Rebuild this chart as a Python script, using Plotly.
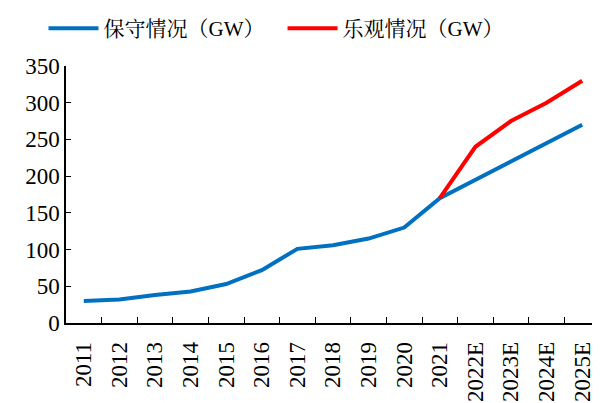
import plotly.graph_objects as go

years = ["2011", "2012", "2013", "2014", "2015", "2016", "2017", "2018",
         "2019", "2020", "2021", "2022E", "2023E", "2024E", "2025E"]
conservative = [30, 32, 38, 43, 53, 72, 101, 106, 115, 130, 170, 195, 220, 245, 270]
optimistic_years = ["2021", "2022E", "2023E", "2024E", "2025E"]
optimistic = [170, 240, 275, 300, 330]

font_fam = "Liberation Serif, Times New Roman, Noto Serif CJK SC, Noto Sans CJK SC, serif"

fig = go.Figure()
fig.add_trace(go.Scatter(x=years, y=conservative, mode="lines", name="保守情况（GW）",
                         line=dict(color="#0070C0", width=4)))
fig.add_trace(go.Scatter(x=optimistic_years, y=optimistic, mode="lines", name="乐观情况（GW）",
                         line=dict(color="#FF0000", width=4)))

fig.update_layout(
    width=592, height=395,
    margin=dict(l=58, r=0, t=58, b=80),
    paper_bgcolor="white", plot_bgcolor="white",
    font=dict(family=font_fam, size=23, color="black"),
    showlegend=True,
    legend=dict(orientation="h", x=0.06, xref="container", xanchor="left",
                y=1.0, yref="container", yanchor="top", font=dict(size=21),
                itemwidth=50, entrywidth=174, entrywidthmode="pixels",
                bgcolor="rgba(0,0,0,0)"),
    xaxis=dict(type="category", categoryorder="array", categoryarray=years,
               range=[-0.5, 14.5], showline=True, linecolor="black", linewidth=1.5,
               ticks="inside", ticklen=6, tickcolor="black", tickson="boundaries",
               tickangle=-90, showgrid=False, zeroline=False, automargin=False,
               ticklabelstandoff=8, tickfont=dict(size=23)),
    yaxis=dict(range=[0, 350], tickvals=[0, 50, 100, 150, 200, 250, 300, 350],
               showline=True, linecolor="black", linewidth=1.5,
               ticks="inside", ticklen=5, tickcolor="black", automargin=False,
               showgrid=False, zeroline=False, tickfont=dict(size=23)),
)

fig.write_html("out.html")
